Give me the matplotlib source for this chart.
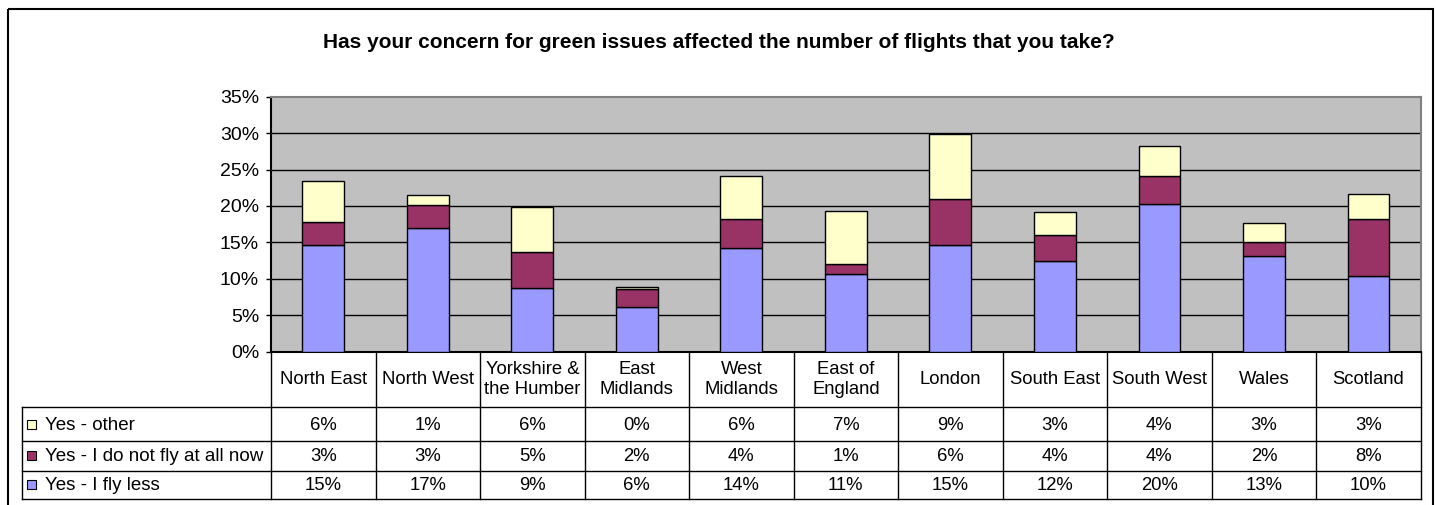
import matplotlib
matplotlib.use("Agg")
import matplotlib.pyplot as plt
from matplotlib.transforms import blended_transform_factory
from matplotlib.patches import Rectangle
from matplotlib.ticker import FuncFormatter

plt.rcParams['font.family'] = ['Liberation Sans', 'DejaVu Sans']

title = "Has your concern for green issues affected the number of flights that you take?"
regions = ["North East", "North West", "Yorkshire &\nthe Humber", "East\nMidlands",
           "West\nMidlands", "East of\nEngland", "London", "South East",
           "South West", "Wales", "Scotland"]
fly_less = [14.6, 17.0, 8.8, 6.2, 14.3, 10.6, 14.6, 12.45, 20.3, 13.2, 10.4]
not_fly = [3.15, 3.1, 4.9, 2.4, 3.95, 1.45, 6.4, 3.55, 3.8, 1.8, 7.85]
other = [5.7, 1.4, 6.2, 0.3, 5.85, 7.3, 8.85, 3.2, 4.1, 2.6, 3.45]
series_names = ["Yes - I fly less", "Yes - I do not fly at all now", "Yes - other"]
colors = ["#9999FF", "#993366", "#FFFFCC"]
yticks = [0, 5, 10, 15, 20, 25, 30, 35]

W, H = 1436, 505
fig = plt.figure(figsize=(W / 100, H / 100), dpi=100)

# overlay in pixel coordinates
ov = fig.add_axes([0, 0, 1, 1], zorder=-1)
ov.set_xlim(0, W)
ov.set_ylim(H, 0)
ov.axis("off")
ov.add_patch(Rectangle((7.5, 9), 1425, 510, fill=False, ec="black", lw=1.5, clip_on=False))

# plot area
px_l, px_r, py_t, py_b = 271, 1420.7, 96.7, 351.7
ax = fig.add_axes([px_l / W, (H - py_b) / H, (px_r - px_l) / W, (py_b - py_t) / H])
ax.set_facecolor("#C0C0C0")
n = len(regions)
x = list(range(n))
series = [fly_less, not_fly, other]
bottom = [0.0] * n
for vals, c, name in zip(series, colors, series_names):
    ax.bar(x, vals, width=0.4, bottom=bottom, color=c, edgecolor="black", linewidth=1.0,
           label=name, zorder=3)
    bottom = [b + v for b, v in zip(bottom, vals)]

ax.set_xlim(-0.5, n - 0.5)
ax.set_ylim(0, 35)
ax.set_yticks(yticks)
ax.yaxis.set_major_formatter(FuncFormatter(lambda v, p: f"{v:.0f}%"))
ax.tick_params(axis="y", labelsize=14, length=3.6, width=1, pad=5, direction="out", color="black")
ax.set_xticks([])
for yv in yticks[1:-1]:
    ax.axhline(yv, color="black", lw=1.0, zorder=1)
ax.spines["left"].set_color("black")
ax.spines["bottom"].set_color("black")
ax.spines["top"].set_color("#808080")
ax.spines["right"].set_color("#808080")
for s in ax.spines.values():
    s.set_linewidth(1.5)

fig.text(719 / W, 1 - 42 / H, title, ha="center", va="center", fontsize=15, fontweight="bold")

# data table
bt = blended_transform_factory(ax.transData, ov.transData)
row_y = [352, 407.3, 440.7, 470.7, 499]
table_left = 22
for yv in row_y[1:]:
    ov.plot([table_left, px_r], [yv, yv], color="black", lw=1.0, clip_on=False)
ov.plot([table_left, table_left], [row_y[1], row_y[-1]], color="black", lw=1.0, clip_on=False)
for i in range(n + 1):
    ov.plot([i - 0.5, i - 0.5], [row_y[0], row_y[-1]], color="black", lw=1.0,
            transform=bt, clip_on=False)

hdr_c = (row_y[0] + row_y[1]) / 2
for i, r in enumerate(regions):
    ov.text(i, hdr_c, r, transform=bt, ha="center", va="center", fontsize=13.3, linespacing=1.25)

table_rows = [(other, colors[2], series_names[2]),
              (not_fly, colors[1], series_names[1]),
              (fly_less, colors[0], series_names[0])]
for k, (vals, c, name) in enumerate(table_rows):
    yc = (row_y[k + 1] + row_y[k + 2]) / 2
    ov.add_patch(Rectangle((27, yc - 4.5), 9, 9, facecolor=c, edgecolor="black", lw=0.8))
    ov.text(45, yc + 1, name, ha="left", va="center", fontsize=13.5)
    for i, v in enumerate(vals):
        ov.text(i, yc + 1, f"{round(v):.0f}%", transform=bt, ha="center", va="center", fontsize=13.3)

fig.savefig("out.png", dpi=100)
